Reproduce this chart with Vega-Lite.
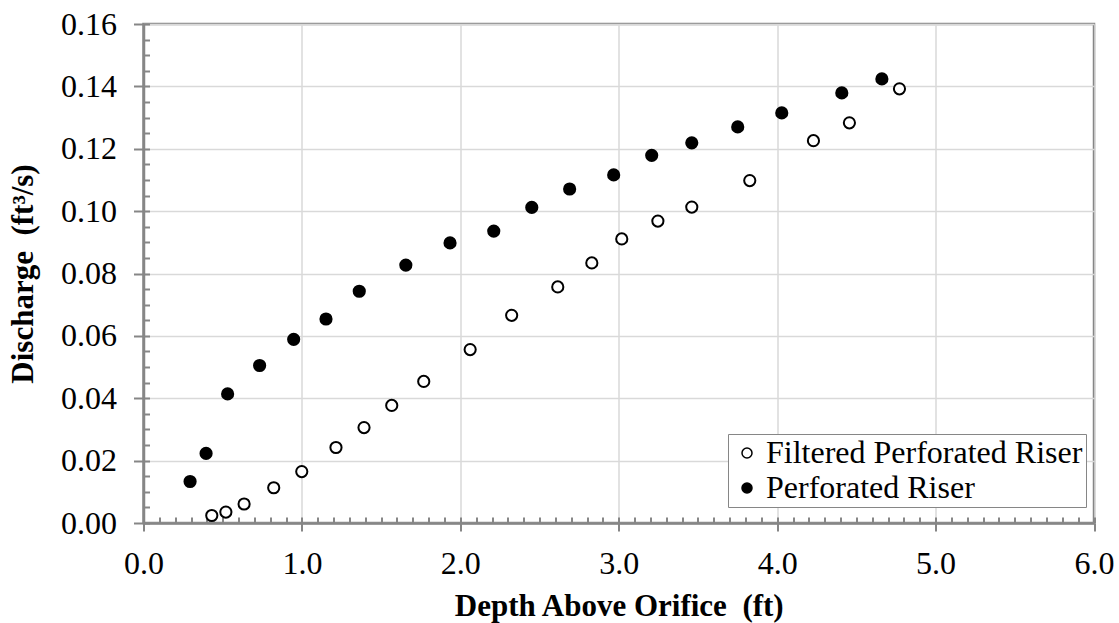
{
  "$schema": "https://vega.github.io/schema/vega-lite/v6.json",
  "autosize": "none",
  "width": 950.5,
  "height": 499,
  "padding": {"left": 143.5, "top": 24, "right": 25, "bottom": 100},
  "background": "white",
  "config": {
    "view": {"stroke": "#868686", "strokeWidth": 2.5},
    "font": "Liberation Serif"
  },
  "data": {
    "values": [
      {"series": "Perforated Riser", "depth": 0.294, "q": 0.0133},
      {"series": "Perforated Riser", "depth": 0.395, "q": 0.0223},
      {"series": "Perforated Riser", "depth": 0.531, "q": 0.0414},
      {"series": "Perforated Riser", "depth": 0.733, "q": 0.0505},
      {"series": "Perforated Riser", "depth": 0.948, "q": 0.0589},
      {"series": "Perforated Riser", "depth": 1.152, "q": 0.0654},
      {"series": "Perforated Riser", "depth": 1.362, "q": 0.0743},
      {"series": "Perforated Riser", "depth": 1.656, "q": 0.0827},
      {"series": "Perforated Riser", "depth": 1.935, "q": 0.0898},
      {"series": "Perforated Riser", "depth": 2.211, "q": 0.0936},
      {"series": "Perforated Riser", "depth": 2.451, "q": 0.1012},
      {"series": "Perforated Riser", "depth": 2.690, "q": 0.1071},
      {"series": "Perforated Riser", "depth": 2.968, "q": 0.1116},
      {"series": "Perforated Riser", "depth": 3.208, "q": 0.1179},
      {"series": "Perforated Riser", "depth": 3.461, "q": 0.1219},
      {"series": "Perforated Riser", "depth": 3.751, "q": 0.1270},
      {"series": "Perforated Riser", "depth": 4.029, "q": 0.1315},
      {"series": "Perforated Riser", "depth": 4.408, "q": 0.1379},
      {"series": "Perforated Riser", "depth": 4.661, "q": 0.1424},
      {"series": "Filtered Perforated Riser", "depth": 0.431, "q": 0.0024},
      {"series": "Filtered Perforated Riser", "depth": 0.520, "q": 0.0035},
      {"series": "Filtered Perforated Riser", "depth": 0.635, "q": 0.0061},
      {"series": "Filtered Perforated Riser", "depth": 0.822, "q": 0.0113},
      {"series": "Filtered Perforated Riser", "depth": 0.999, "q": 0.0165},
      {"series": "Filtered Perforated Riser", "depth": 1.215, "q": 0.0242},
      {"series": "Filtered Perforated Riser", "depth": 1.392, "q": 0.0306},
      {"series": "Filtered Perforated Riser", "depth": 1.567, "q": 0.0377},
      {"series": "Filtered Perforated Riser", "depth": 1.769, "q": 0.0454},
      {"series": "Filtered Perforated Riser", "depth": 2.062, "q": 0.0556},
      {"series": "Filtered Perforated Riser", "depth": 2.324, "q": 0.0666},
      {"series": "Filtered Perforated Riser", "depth": 2.615, "q": 0.0757},
      {"series": "Filtered Perforated Riser", "depth": 2.830, "q": 0.0834},
      {"series": "Filtered Perforated Riser", "depth": 3.019, "q": 0.0911},
      {"series": "Filtered Perforated Riser", "depth": 3.247, "q": 0.0968},
      {"series": "Filtered Perforated Riser", "depth": 3.461, "q": 0.1013},
      {"series": "Filtered Perforated Riser", "depth": 3.827, "q": 0.1098},
      {"series": "Filtered Perforated Riser", "depth": 4.229, "q": 0.1226},
      {"series": "Filtered Perforated Riser", "depth": 4.456, "q": 0.1283},
      {"series": "Filtered Perforated Riser", "depth": 4.772, "q": 0.1392}
    ]
  },
  "layer": [
    {
      "mark": {"type": "point", "opacity": 0},
      "encoding": {
        "x": {
          "field": "depth", "type": "quantitative",
          "scale": {"domain": [0, 6], "nice": false, "zero": false},
          "axis": {
            "orient": "bottom",
            "values": [0,0.1,0.2,0.3,0.4,0.5,0.6,0.7,0.8,0.9,1,1.1,1.2,1.3,1.4,1.5,1.6,1.7,1.8,1.9,2,2.1,2.2,2.3,2.4,2.5,2.6,2.7,2.8,2.9,3,3.1,3.2,3.3,3.4,3.5,3.6,3.7,3.8,3.9,4,4.1,4.2,4.3,4.4,4.5,4.6,4.7,4.8,4.9,5,5.1,5.2,5.3,5.4,5.5,5.6,5.7,5.8,5.9,6],
            "labels": false, "domain": false, "grid": false,
            "ticks": true, "tickSize": -6, "tickColor": "#868686", "tickWidth": 2,
            "title": null
          }
        },
        "y": {
          "field": "q", "type": "quantitative",
          "scale": {"domain": [0, 0.16], "nice": false, "zero": false},
          "axis": {
            "orient": "left",
            "values": [0,0.005,0.01,0.015,0.02,0.025,0.03,0.035,0.04,0.045,0.05,0.055,0.06,0.065,0.07,0.075,0.08,0.085,0.09,0.095,0.1,0.105,0.11,0.115,0.12,0.125,0.13,0.135,0.14,0.145,0.15,0.155,0.16],
            "labels": false, "domain": false, "grid": false,
            "ticks": true, "tickSize": -6, "tickColor": "#868686", "tickWidth": 2,
            "title": null
          }
        }
      }
    },
    {
      "mark": {"type": "point", "filled": true, "size": 125, "stroke": "black", "strokeWidth": 2, "opacity": 1},
      "encoding": {
        "x": {
          "field": "depth", "type": "quantitative",
          "axis": {
            "orient": "bottom",
            "values": [0, 1, 2, 3, 4, 5, 6],
            "format": ".1f",
            "labelFlush": false,
            "labelOverlap": false,
            "domain": true, "domainColor": "#868686", "domainWidth": 2.5,
            "ticks": true, "tickSize": 8, "tickColor": "#868686", "tickWidth": 2,
            "grid": true, "gridColor": "#d9d9d9", "gridWidth": 1.5,
            "labelFont": "Liberation Serif", "labelFontSize": 32, "labelColor": "black", "labelPadding": 17,
            "title": "Depth Above Orifice\u00a0 (ft)",
            "titleFont": "Liberation Serif", "titleFontSize": 31, "titleFontWeight": "bold", "titleColor": "black", "titlePadding": 12
          }
        },
        "y": {
          "field": "q", "type": "quantitative",
          "axis": {
            "orient": "left",
            "values": [0, 0.02, 0.04, 0.06, 0.08, 0.1, 0.12, 0.14, 0.16],
            "format": ".2f",
            "labelFlush": false,
            "labelOverlap": false,
            "domain": true, "domainColor": "#868686", "domainWidth": 2.5,
            "ticks": true, "tickSize": 10, "tickColor": "#868686", "tickWidth": 2,
            "grid": true, "gridColor": "#d9d9d9", "gridWidth": 1.5,
            "labelFont": "Liberation Serif", "labelFontSize": 32, "labelColor": "black", "labelPadding": 17,
            "title": "Discharge\u00a0 (ft³/s)",
            "titleFont": "Liberation Serif", "titleFontSize": 31, "titleFontWeight": "bold", "titleColor": "black", "titlePadding": 21
          }
        },
        "fill": {
          "field": "series", "type": "nominal",
          "scale": {"domain": ["Filtered Perforated Riser", "Perforated Riser"], "range": ["white", "black"]},
          "legend": {
            "title": null,
            "orient": "none",
            "legendX": 584.5,
            "legendY": 410,
            "direction": "vertical",
            "strokeColor": "#868686",
            "fillColor": "white",
            "padding": 3,
            "rowPadding": 3,
            "symbolType": "circle",
            "symbolSize": 100,
            "symbolStrokeColor": "black",
            "symbolStrokeWidth": 1.5,
            "symbolOpacity": 1,
            "labelFont": "Liberation Serif",
            "labelFontSize": 32,
            "labelColor": "black",
            "labelOffset": 3,
            "labelLimit": 500
          }
        }
      }
    }
  ],
  "resolve": {"axis": {"x": "independent", "y": "independent"}}
}
